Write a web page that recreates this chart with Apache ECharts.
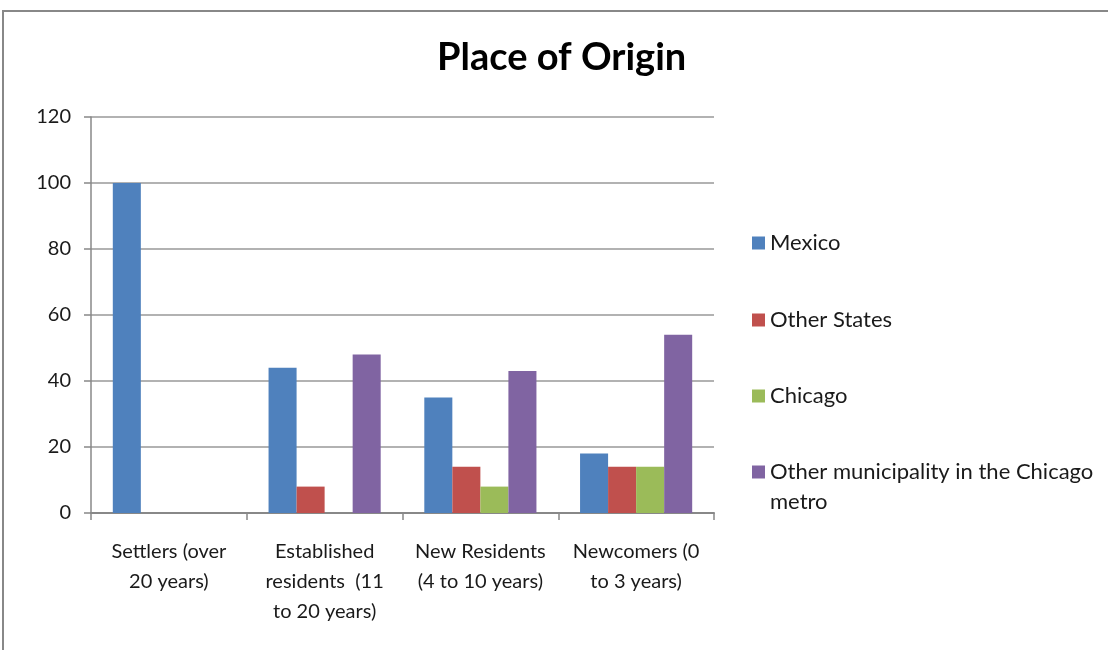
<!DOCTYPE html>
<html>
<head>
<meta charset="utf-8">
<script src="https://cdn.jsdelivr.net/npm/echarts@6/dist/echarts.min.js"></script>
<style>
  html, body { margin: 0; padding: 0; background: #fff; }
  #chart { width: 1108px; height: 650px; }
</style>
</head>
<body>
<div id="chart"></div>
<script>
// categories (x axis) and series values
var categories = [
  'Settlers (over\n20 years)',
  'Established\nresidents  (11\nto 20 years)',
  'New Residents\n(4 to 10 years)',
  'Newcomers (0\nto 3 years)'
];
var mexico = [100, 44, 35, 18];
var otherStates = [0, 8, 14, 14];
var chicago = [0, 0, 8, 14];
var otherMunicipality = [0, 48, 43, 54];

var seriesNames = ['Mexico', 'Other States', 'Chicago', 'Other municipality in the Chicago metro'];
var colors = ['#4F81BD', '#C0504D', '#9BBB59', '#8064A2'];
var font = 'Lato, "Open Sans", sans-serif';

var chart = echarts.init(document.getElementById('chart'));

// one legend per item, so each sits at its own height like the original
// the last one gets an empty first line so the marker lines up with "Other municipality..."
var legendTops = [223, 300, 376, 422];
var legends = seriesNames.map(function (name, i) {
  return {
    orient: 'vertical',
    left: 747,
    top: legendTops[i],
    itemWidth: 13,
    itemHeight: 13,
    itemGap: 7,
    icon: 'rect',
    data: [name],
    formatter: function (n) {
      return n === seriesNames[3] ? ' \nOther municipality in the Chicago\nmetro' : n;
    },
    textStyle: {
      fontFamily: font,
      fontSize: 22,
      color: '#1a1a1a',
      lineHeight: 30
    }
  };
});

var series = [mexico, otherStates, chicago, otherMunicipality].map(function (d, i) {
  return {
    name: seriesNames[i],
    type: 'bar',
    data: d,
    barGap: '0%',
    barCategoryGap: '28%',
    itemStyle: { color: colors[i] }
  };
});

chart.setOption({
  animation: false,
  title: {
    text: 'Place of Origin',
    left: 432,
    top: 34,
    textStyle: { fontFamily: font, fontSize: 38, fontWeight: 'bold', color: '#000' }
  },
  graphic: [{
    type: 'rect',
    shape: { x: 3, y: 11, width: 1200, height: 700 },
    style: { fill: 'none', stroke: '#888', lineWidth: 2 },
    silent: true
  }],
  legend: legends,
  grid: { left: 91, right: 394, top: 117, bottom: 137 },
  xAxis: {
    type: 'category',
    data: categories,
    axisLine: { lineStyle: { color: '#888', width: 2 } },
    axisTick: { show: true, length: 7, lineStyle: { color: '#888', width: 1.5 } },
    axisLabel: {
      fontFamily: font, fontSize: 20, color: '#1a1a1a', lineHeight: 30,
      margin: 24, interval: 0, align: 'center'
    }
  },
  yAxis: {
    type: 'value',
    min: 0,
    max: 120,
    interval: 20,
    axisLine: { show: true, lineStyle: { color: '#888', width: 1.5 } },
    axisTick: { show: true, length: 7, lineStyle: { color: '#888', width: 1.5 } },
    splitLine: { lineStyle: { color: '#999', width: 1.5 } },
    axisLabel: { fontFamily: font, fontSize: 20, color: '#1a1a1a', margin: 20 }
  },
  series: series
});
</script>
</body>
</html>
